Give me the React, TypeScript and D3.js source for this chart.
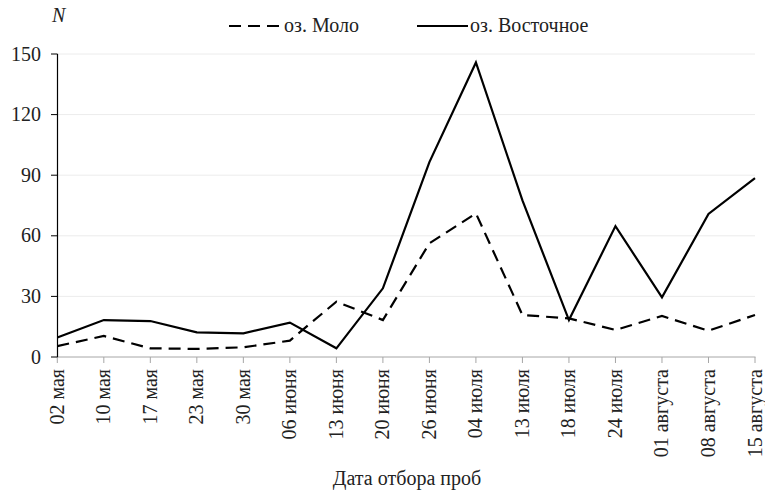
import React from "react";
import * as d3 from "d3";

const categories = ["02 мая","10 мая","17 мая","23 мая","30 мая","06 июня","13 июня","20 июня","26 июня","04 июля","13 июля","18 июля","24 июля","01 августа","08 августа","15 августа"];
const moloValues = [5.4,10.4,4.3,4,4.8,8.1,27.4,18.3,56.3,71.1,20.8,19.1,13.4,20.3,13,20.8];
const vostValues = [9.7,18.3,17.8,12.2,11.7,17,4.3,34,96.5,145.8,77.5,18.3,64.8,29.5,70.8,88.5];
const yTicks = [0,30,60,90,120,150];
const seriesNames = ["оз. Моло","оз. Восточное"];

const W = 765, H = 496;
const FONT = `"Liberation Serif"`;

export default function App() {
  const x = d3.scalePoint<string>().domain(categories).range([57.3, 755]);
  const y = d3.scaleLinear().domain([0, 150]).range([357, 54]);
  const line = d3.line<number>().x((_, i) => x(categories[i])!).y(d => y(d));
  const fs = 20;
  const ts = { fontFamily: FONT };
  return (
    <svg width={W} height={H} lang="ru" style={{position:"absolute", left:0, top:0, fontFamily: FONT}}>
      <rect width={W} height={H} fill="#fff" />
      {yTicks.filter(t => t > 0).map(t => (
        <line key={t} x1={57} x2={755} y1={y(t)} y2={y(t)} stroke="#ececec" strokeWidth={1} />
      ))}
      <line x1={57} x2={755.5} y1={y(0)} y2={y(0)} stroke="#a6a6a6" strokeWidth={1} />
      {categories.map(c => (
        <line key={c} x1={x(c)} x2={x(c)} y1={y(0)} y2={y(0)+6} stroke="#a6a6a6" strokeWidth={1} />
      ))}
      <line x1={57.5} x2={57.5} y1={y(150)} y2={y(0)} stroke="#000" strokeWidth={1.2} />
      {yTicks.map(t => (
        <g key={t}>
          <line x1={51} x2={57.5} y1={y(t)} y2={y(t)} stroke="#000" strokeWidth={1} />
          <text x={41} y={y(t)} dy="0.33em" textAnchor="end" fontSize={fs} fill="#222" style={ts}>{t}</text>
        </g>
      ))}
      {categories.map(c => (
        <text key={c} transform={`translate(${x(c)! + 6.5},369) rotate(-90)`} textAnchor="end" fontSize={fs} fill="#222" style={ts}>{c}</text>
      ))}
      <path d={line(moloValues)!} fill="none" stroke="#000" strokeWidth={2.2} strokeDasharray="12,7" />
      <path d={line(vostValues)!} fill="none" stroke="#000" strokeWidth={2.2} />
      <text x={52} y={22} fontSize={fs} fontStyle="italic" fill="#222" style={ts}>N</text>
      <line x1={229} x2={279} y1={26} y2={26} stroke="#000" strokeWidth={2.2} strokeDasharray="12,7" />
      <text x={284} y={32} fontSize={fs} fill="#222" style={ts}>{seriesNames[0]}</text>
      <line x1={417} x2={468} y1={26} y2={26} stroke="#000" strokeWidth={2.2} />
      <text x={470} y={32} fontSize={fs} fill="#222" style={ts}>{seriesNames[1]}</text>
      <text x={407} y={485} textAnchor="middle" fontSize={fs} fill="#222" style={ts}>Дата отбора проб</text>
    </svg>
  );
}
